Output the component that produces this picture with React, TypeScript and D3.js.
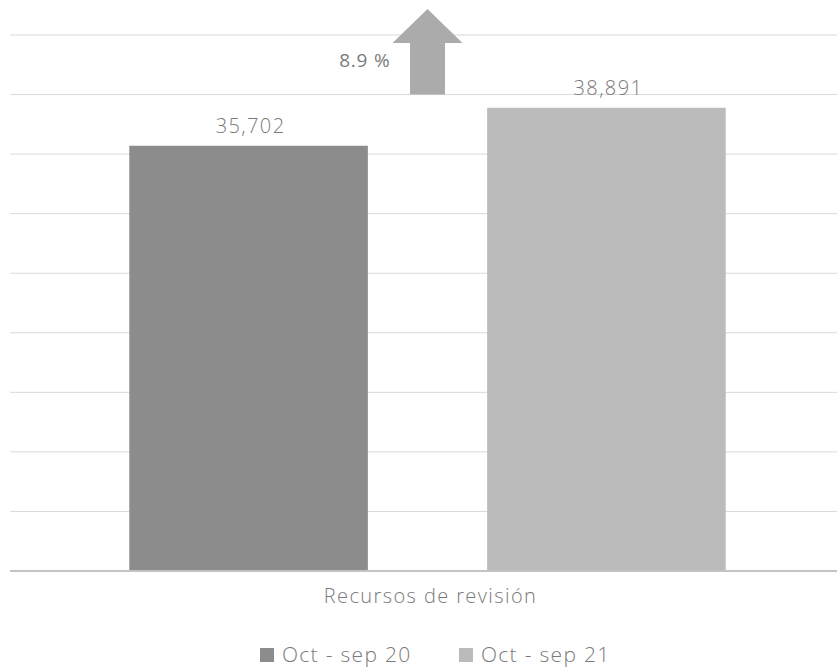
import React from "react";
import * as d3 from "d3";

const categories = ["Recursos de revisión"];
const seriesNames = ["Oct - sep 20", "Oct - sep 21"];
const seriesValues = [35702, 38891];
const seriesColors = ["#8c8c8c", "#bbbbbb"];
const yTicks = [0, 5000, 10000, 15000, 20000, 25000, 30000, 35000, 40000, 45000];

const W = 837;
const H = 668;
const FONT = "'Open Sans', sans-serif";
const TXT = "#7a7a7a";

export default function App() {
  const left = 10;
  const right = 845;
  const top = 35;
  const bottom = 571;

  const x0 = d3.scaleBand<string>().domain(categories).range([left, right]).padding(0);
  const x1 = d3
    .scaleBand<string>()
    .domain(seriesNames)
    .range([x0(categories[0])!, x0(categories[0])! + x0.bandwidth()])
    .paddingInner(1 / 3)
    .paddingOuter(1 / 3);
  const y = d3.scaleLinear().domain([0, d3.max(yTicks)!]).range([bottom, top]);

  const cx = x0(categories[0])! + x0.bandwidth() / 2;
  const pct = ((seriesValues[1] - seriesValues[0]) / seriesValues[0]) * 100;
  const fmt = d3.format(",");

  const aBase = y(40000);
  const shaftW = 35;
  const headW = 70;
  const headBaseY = 43;
  const tipY = 9;
  const arrowPath = [
    [cx - shaftW / 2, aBase],
    [cx - shaftW / 2, headBaseY],
    [cx - headW / 2, headBaseY],
    [cx, tipY],
    [cx + headW / 2, headBaseY],
    [cx + shaftW / 2, headBaseY],
    [cx + shaftW / 2, aBase],
  ];
  const line = d3.line();

  return (
    <svg
      width={W}
      height={H}
      style={{ position: "absolute", left: 0, top: 0, background: "#fff" }}
      fontFamily={FONT}
    >
      {yTicks
        .filter((t) => t > 0)
        .map((t) => (
          <line key={t} x1={left} x2={W} y1={y(t)} y2={y(t)} stroke="#d9d9d9" strokeWidth={1} />
        ))}
      {seriesNames.map((s, i) => (
        <rect
          key={s}
          x={x1(s)}
          y={y(seriesValues[i])}
          width={x1.bandwidth()}
          height={bottom - y(seriesValues[i])}
          fill={seriesColors[i]}
        />
      ))}
      <line x1={left} x2={W} y1={bottom} y2={bottom} stroke="#c3c3c3" strokeWidth={2} />
      {seriesNames.map((s, i) => (
        <text
          key={s}
          x={x1(s)! + x1.bandwidth() / 2 + 2}
          y={y(seriesValues[i]) - 13}
          textAnchor="middle"
          fontSize={20}
          fontWeight={300}
          letterSpacing={1.4}
          fill={TXT}
        >
          {fmt(seriesValues[i])}
        </text>
      ))}
      <path d={line(arrowPath as [number, number][])! + "Z"} fill="#ababab" />
      <text x={cx - 37} y={67} textAnchor="end" fontSize={19} fontWeight={500} letterSpacing={0.8} fill={TXT}>
        {pct.toFixed(1)} %
      </text>
      <text x={cx + 3} y={603} textAnchor="middle" fontSize={20} fontWeight={300} letterSpacing={1.4} fill={TXT}>
        {categories[0]}
      </text>
      {seriesNames.map((s, i) => {
        const lx = 260 + i * 199;
        return (
          <g key={s}>
            <rect x={lx} y={648} width={14} height={14} fill={seriesColors[i]} />
            <text x={lx + 22} y={662} fontSize={21} fontWeight={300} letterSpacing={1.3} fill={TXT}>
              {s}
            </text>
          </g>
        );
      })}
    </svg>
  );
}
